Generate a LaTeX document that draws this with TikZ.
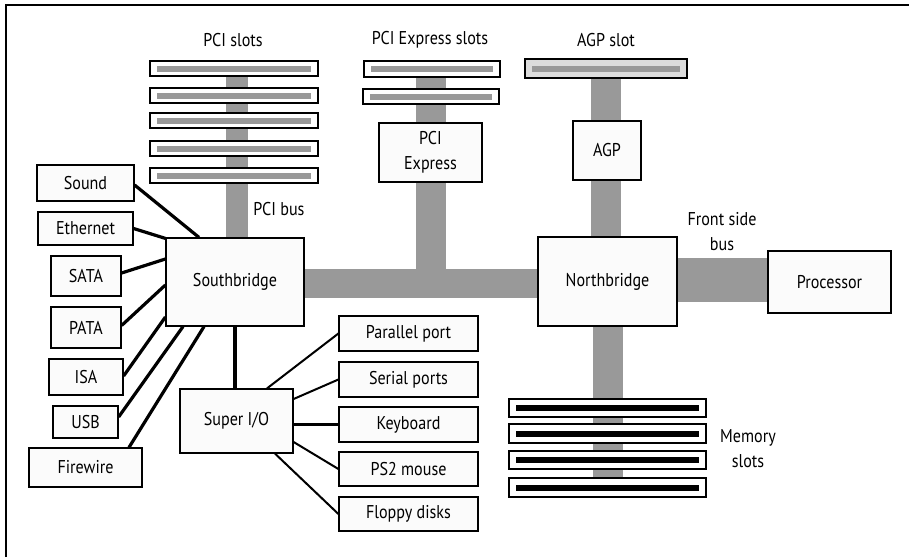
\documentclass[tikz,border=0pt]{standalone}
\usepackage{fontspec}
\setmainfont{PT Sans}[FakeStretch=0.87]
\usetikzlibrary{backgrounds}
\definecolor{busgray}{HTML}{999999}
\definecolor{boxfill}{HTML}{FBFBFB}
\definecolor{agpfill}{HTML}{DCDCDC}
\tikzset{
  box/.style={draw=black, line width=1.2pt, fill=boxfill, inner sep=0pt, align=center},
  slot/.style={draw=black, line width=1.2pt, fill=white, inner sep=0pt,
    path picture={\fill[#1] ([xshift=7pt,yshift=-3pt]path picture bounding box.west) rectangle ([xshift=-7pt,yshift=3pt]path picture bounding box.east);}},
  lbl/.style={inner sep=0pt, align=center},
  bus/.style={draw=busgray, line width=#1},
  thickwire/.style={draw=black, line width=3.2pt},
  thinwire/.style={draw=black, line width=2pt},
}
\begin{document}
\begin{tikzpicture}[x=1pt,y=-1pt, font=\fontsize{18.5}{25}\selectfont]
\useasboundingbox (0,0) rectangle (909,557);
\draw[line width=1.5pt] (6,557) -- (6,5) -- (909,5);

% labels
\node[lbl] (lpci) at (233,40) {PCI slots};
\node[lbl] (lpcie) at (430,40) {PCI Express slots};
\node[lbl] (lagp) at (606,40) {AGP slot};
\node[lbl] (lbus) at (279,209) {PCI bus};
\node[lbl] (lfsb) at (722,232) {Front side\\bus};
\node[lbl] (lmem) at (748,449) {Memory\\slots};

% slots
\node[slot=busgray, minimum width=168pt, minimum height=15pt] (pci1) at (234,68.5) {};
\node[slot=busgray, minimum width=168pt, minimum height=15pt] (pci2) at (234,95.5) {};
\node[slot=busgray, minimum width=168pt, minimum height=15pt] (pci3) at (234,120.5) {};
\node[slot=busgray, minimum width=168pt, minimum height=15pt] (pci4) at (234,148.5) {};
\node[slot=busgray, minimum width=168pt, minimum height=15pt] (pci5) at (234,175.5) {};
\node[slot=busgray, minimum width=136pt, minimum height=16pt] (pcies1) at (432,69) {};
\node[slot=busgray, minimum width=136pt, minimum height=15pt] (pcies2) at (431,96.5) {};
\node[slot=busgray, fill=agpfill, minimum width=162pt, minimum height=19pt] (agps) at (606,68.5) {};
\node[slot=black, minimum width=197pt, minimum height=18pt] (mem1) at (607.5,408) {};
\node[slot=black, minimum width=197pt, minimum height=19pt] (mem2) at (607.5,433.5) {};
\node[slot=black, minimum width=197pt, minimum height=18pt] (mem3) at (607.5,460) {};
\node[slot=black, minimum width=197pt, minimum height=19pt] (mem4) at (607.5,487.5) {};

% main boxes
\node[box, minimum width=103pt, minimum height=59pt] (pcie) at (430.5,152.5) {PCI\\Express};
\node[box, minimum width=68pt, minimum height=59pt] (agp) at (607,150.5) {AGP};
\node[box, minimum width=138pt, minimum height=88pt] (sb) at (235,282) {Southbridge};
\node[box, minimum width=139pt, minimum height=89pt] (nb) at (607.5,281.5) {Northbridge};
\node[box, minimum width=123pt, minimum height=62pt] (cpu) at (829.5,282) {Processor};
\node[box, minimum width=113pt, minimum height=64pt] (sio) at (236.5,421) {Super I/O};

% left devices
\node[box, minimum width=97pt, minimum height=36pt] (sound) at (85.5,183) {Sound};
\node[box, minimum width=95pt, minimum height=33pt] (eth) at (85.5,228.5) {Ethernet};
\node[box, minimum width=70pt, minimum height=40pt] (sata) at (86,276) {SATA};
\node[box, minimum width=70pt, minimum height=41pt] (pata) at (86,327.5) {PATA};
\node[box, minimum width=74pt, minimum height=36pt] (isa) at (86,377) {ISA};
\node[box, minimum width=65pt, minimum height=32pt] (usb) at (85.5,422) {USB};
\node[box, minimum width=113pt, minimum height=39pt] (fw) at (85.5,467.5) {Firewire};

% right devices
\node[box, minimum width=139pt, minimum height=35pt] (par) at (408.5,333.5) {Parallel port};
\node[box, minimum width=139pt, minimum height=35pt] (ser) at (408.5,379.5) {Serial ports};
\node[box, minimum width=139pt, minimum height=35pt] (kbd) at (408.5,424.5) {Keyboard};
\node[box, minimum width=139pt, minimum height=34pt] (ps2) at (408.5,469) {PS2 mouse};
\node[box, minimum width=139pt, minimum height=34pt] (flop) at (408.5,514) {Floppy disks};

% buses behind
\begin{scope}[on background layer]
  \draw[bus=22pt] ([xshift=3pt]pci1.center) -- ([xshift=2pt]sb.north);
  \draw[bus=30pt] (pcie.center |- pcies1.center) -- ([yshift=-1pt]pcie.center |- sb.east);
  \draw[bus=29pt] ([yshift=-1.5pt]sb.east) -- ([yshift=-1.5pt]sb.east -| nb.west);
  \draw[bus=30pt] (agps.center) -- (agps.center |- nb.north);
  \draw[bus=30pt] ([xshift=0.5pt]nb.center) -- ([xshift=0.5pt]mem4.north);
  \draw[bus=44pt] ([yshift=1.5pt]nb.east) -- ([yshift=1.5pt]nb.east -| cpu.west);
\end{scope}

% southbridge wires
\draw[thickwire] ([yshift=-2pt]sound.east) -- ([xshift=-36pt]sb.north);
\draw[thickwire] (eth.east) -- ([yshift=-1pt]sb.north west);
\draw[thickwire] ([yshift=3pt]sata.east) -- ([yshift=23pt]sb.west);
\draw[thickwire] ([yshift=2pt]pata.east) -- ([yshift=-3pt]sb.west);
\draw[thickwire] ([yshift=1pt]isa.east) -- ([yshift=-35pt]sb.west);
\draw[thickwire] ([yshift=5pt]usb.east) -- ([xshift=-52pt]sb.south);
\draw[thickwire] ([xshift=43.5pt]fw.north) -- ([xshift=-31pt]sb.south);
\draw[draw=black, line width=3.6pt] (sb.south) -- (sb.south |- sio.north);

% super I/O wires
\draw[thinwire] ([xshift=30.5pt]sio.north) -- (par.west);
\draw[thinwire] ([yshift=22pt]sio.east) -- (ser.west);
\draw[draw=black, line width=3pt] (sio.east |- kbd.west) -- (kbd.west);
\draw[thinwire] ([yshift=-21pt]sio.east) -- (ps2.west);
\draw[thinwire] ([xshift=38.5pt]sio.south) -- (flop.west);
\end{tikzpicture}
\end{document}
